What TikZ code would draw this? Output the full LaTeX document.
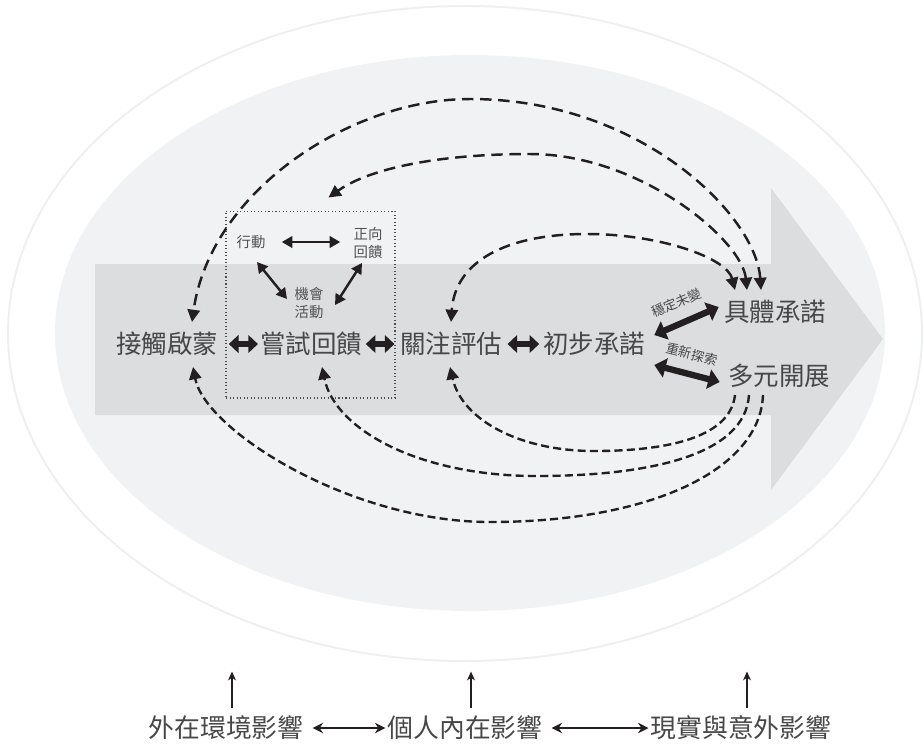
\documentclass[tikz,border=0pt]{standalone}
\usepackage{fontspec}
\setmainfont{Noto Sans CJK TC}
\usetikzlibrary{arrows.meta,calc,positioning}
\definecolor{outring}{HTML}{EEEFF0}
\definecolor{innerfill}{HTML}{F1F2F4}
\definecolor{bandgray}{HTML}{DCDDDF}
\definecolor{ink}{HTML}{231F20}

\begin{document}
\begin{tikzpicture}[x=0.02cm,y=-0.02cm,
 stage/.style={inner sep=0pt,text=black!72,font=\fontsize{14.5}{16}\selectfont},
 subtext/.style={inner sep=0pt,text=black!68,align=center,font=\fontsize{8.2}{10}\selectfont},
 tagtext/.style={inner sep=0pt,text=black!72,font=\fontsize{7.5}{8}\selectfont},
 cause/.style={inner sep=0pt,text=black!72,font=\fontsize{14.7}{16}\selectfont},
 fatpair/.style={line width=3pt,ink,{Triangle[width=10pt,length=5.5pt]}-{Triangle[width=10pt,length=5.5pt]}},
 widepair/.style={line width=3.6pt,ink,{Triangle[width=11pt,length=6.5pt]}-{Triangle[width=11pt,length=6.5pt]}},
 thinpair/.style={line width=1.4pt,ink,{Triangle[width=6.5pt,length=6pt]}-{Triangle[width=6.5pt,length=6pt]}},
 backdash/.style={line width=1.4pt,ink,dash pattern=on 6.5pt off 3.8pt},
 forthdash/.style={line width=1.35pt,ink,dash pattern=on 4.6pt off 2.4pt},
 tiphead/.style={-{Triangle[width=7pt,length=7pt]}},
 tipboth/.style={{Triangle[width=7pt,length=7pt]}-{Triangle[width=7pt,length=7pt]}},
 linkpair/.style={line width=0.8pt,ink,{Stealth[length=6pt,width=6pt,inset=2pt]}-{Stealth[length=6pt,width=6pt,inset=2pt]}},
 push/.style={line width=0.6pt,ink,-{Stealth[length=5pt,width=4.5pt,inset=1.5pt]}}]

 \useasboundingbox (0,0) rectangle (923,745);
 \draw[outring,line width=1.1pt] (465,333.5) ellipse [x radius=457,y radius=327.5];
 \fill[innerfill] (470,333) ellipse [x radius=415,y radius=278];
 \fill[bandgray] (95,264) -- (771,264) -- (771,188) -- (883,339) -- (771,490)
   -- (771,415) -- (95,415) -- cycle;

 \node[stage] (jc) at (167,344) {接觸啟蒙};
 \node[stage] (cs) at (311,344) {嘗試回饋};
 \node[stage] (gz) at (451,344) {關注評估};
 \node[stage] (cb) at (594,344) {初步承諾};
 \node[stage] (jt) at (775,312) {具體承諾};
 \node[stage] (dy) at (779,376) {多元開展};

 \node[draw=black!70,line width=0.6pt,dash pattern=on 0.6pt off 1.4pt,inner sep=0pt,
   minimum width=3.38cm,minimum height=3.74cm] (box) at (310.5,304.5) {};
 \node[subtext] (xd) at (251,242) {行動};
 \node[subtext] (zx) at (368,243) {正向\\回饋};
 \node[subtext] (jh) at (309,303) {機會\\活動};

 \draw[fatpair,shorten <=6pt,shorten >=1pt] (jc.east) -- (cs.west);
 \draw[fatpair,shorten <=2pt,shorten >=3pt] (cs.east) -- (gz.west);
 \draw[fatpair,shorten <=3pt,shorten >=2pt] (gz.east) -- (cb.west);

 \draw[widepair] ($(cb.east)+(9,-9)$) -- ($(jt.west)+(-5,-5)$)
   node[tagtext,pos=0.47,sloped,above=6.5pt] {穩定未變};
 \draw[widepair] ($(cb.east)+(9,21)$) -- ($(dy.west)+(-8,6)$)
   node[tagtext,pos=0.5,sloped,above=6pt] {重新探索};

 \draw[thinpair] ($(xd.east)+(16,0)$) -- ($(xd.east-|zx.west)+(-13,0)$);
 \draw[thinpair] ($(xd)+(6,20)$) -- ($(jh)+(-22,-4)$);
 \draw[thinpair] ($(zx)+(-6,20)$) -- ($(jh)+(26,2)$);

 % loops back from the two outcomes
 \draw[backdash,tipboth] ($(jt)+(-14,-22)$) .. controls (756,215) and (640,99) .. (470,99)
   .. controls (350,99) and (210,192) .. ($(jc)+(25,-22)$);
 \draw[backdash,tipboth] ($(jt)+(-28,-22)$) .. controls (742,240) and (640,154) .. (530,154)
   .. controls (440,154) and (370,168) .. ($(box.north)+(18,-13)$);
 \draw[backdash,tipboth] ($(jt)+(-40,-22)$) .. controls (727,258) and (660,234) .. (587,234)
   .. controls (505,234) and (455,262) .. ($(gz)+(0,-22)$);
 \draw[forthdash,tiphead] ($(dy)+(-44,19)$) .. controls (730,440) and (660,451) .. (594,451)
   .. controls (520,451) and (462,420) .. ($(gz)+(-1,23)$);
 \draw[forthdash,tiphead] ($(dy)+(-30,19)$) .. controls (745,455) and (650,476) .. (536,476)
   .. controls (420,476) and (335,430) .. ($(cs)+(11,23)$);
 \draw[forthdash,tiphead] ($(dy)+(-16,19)$) .. controls (760,470) and (650,522) .. (490,522)
   .. controls (350,522) and (205,430) .. ($(jc)+(26,23)$);

 \node[cause] (wz) at (226,728) {外在環境影響};
 \node[cause] (gr) at (465,728) {個人內在影響};
 \node[cause] (xy) at (741,728) {現實與意外影響};
 \draw[linkpair,shorten <=5pt,shorten >=1pt] (wz) -- (gr);
 \draw[linkpair,shorten <=5pt,shorten >=1pt] (gr) -- (xy);
 \foreach \N in {wz,gr,xy}
  {\draw[push] ($(\N.north)+(6,-8)$) -- ++(0,-36);}

\end{tikzpicture}
\end{document}
